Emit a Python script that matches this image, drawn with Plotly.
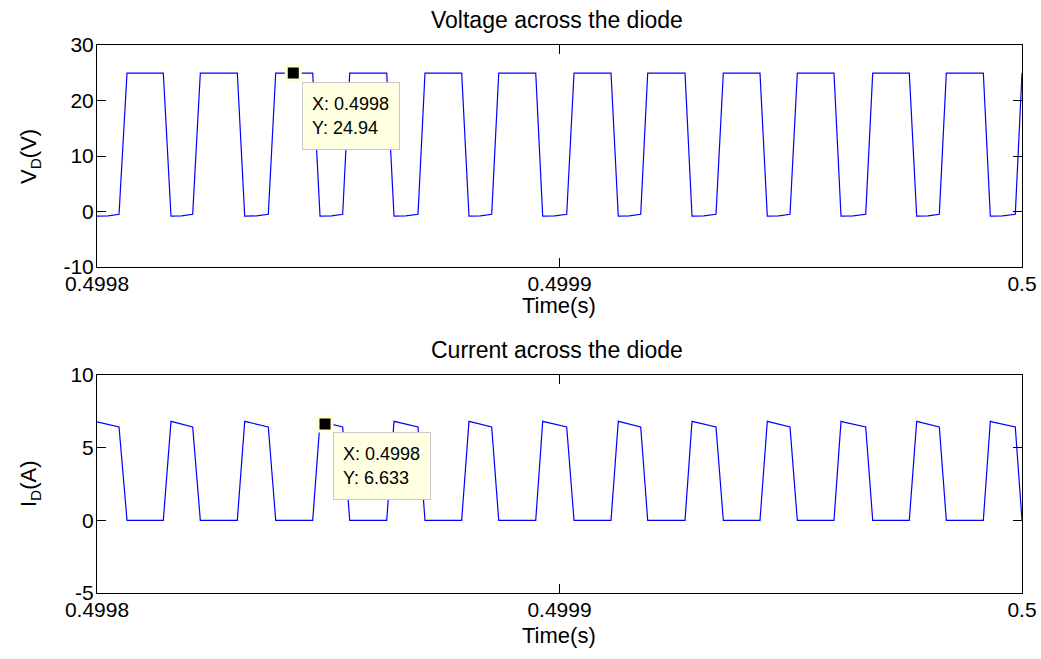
import numpy as np
import plotly.graph_objects as go

# ---- data (time in microseconds after 0.4998 s) ----
v_time_us = [0, 2.4, 4.76, 6.49, 14.34, 16.00, 18.3, 20.69, 22.34, 30.34, 31.94, 34.5, 37.04,
             38.64, 46.64, 48.22, 50.7, 53.12, 54.64, 62.64, 64.22, 66.8, 69.41, 70.92, 78.85,
             80.43, 82.9, 85.34, 86.86, 94.86, 96.37, 99.0, 101.56, 103.14, 111.14, 112.71,
             115.1, 117.56, 119.07, 127.14, 128.65, 131.2, 133.84, 135.42, 143.35, 144.93,
             147.4, 149.84, 151.42, 159.35, 160.87, 163.5, 166.21, 167.72, 175.63, 177.23,
             179.7, 182.12, 183.64, 191.64, 193.15, 195.8, 198.55, 200.0]
v_diode = [-0.85, -0.8, -0.5, 24.94, 24.94, -0.85, -0.8, -0.5, 24.94, 24.94, -0.85, -0.8, -0.5,
           24.94, 24.94, -0.85, -0.8, -0.5, 24.94, 24.94, -0.85, -0.8, -0.5, 24.94, 24.94,
           -0.85, -0.8, -0.5, 24.94, 24.94, -0.85, -0.8, -0.5, 24.94, 24.94, -0.85,
           -0.8, -0.5, 24.94, 24.94, -0.85, -0.8, -0.5, 24.94, 24.94, -0.85,
           -0.8, -0.5, 24.94, 24.94, -0.85, -0.8, -0.5, 24.94, 24.94, -0.85,
           -0.8, -0.5, 24.94, 24.94, -0.85, -0.8, -0.5, 24.94]

i_time_us = [0, 4.76, 6.49, 14.34, 16.00, 16.86, 20.69, 22.34, 30.34, 31.94, 32.8, 37.04, 38.64,
             46.64, 48.22, 49.08, 53.12, 54.64, 62.64, 64.22, 65.08, 69.41, 70.92, 78.85, 80.43,
             81.29, 85.34, 86.86, 94.86, 96.37, 97.23, 101.56, 103.14, 111.14, 112.71, 113.57,
             117.56, 119.07, 127.14, 128.65, 129.51, 133.84, 135.42, 143.35, 144.93, 145.79,
             149.84, 151.42, 159.35, 160.87, 161.73, 166.21, 167.72, 175.63, 177.23, 178.09,
             182.12, 183.64, 191.64, 193.15, 194.01, 198.55, 200.0]
i_diode = [6.78, 6.43, 0, 0, 6.81, 6.74, 6.43, 0, 0, 6.81, 6.74, 6.43, 0,
           0, 6.81, 6.74, 6.43, 0, 0, 6.81, 6.74, 6.43, 0, 0, 6.81,
           6.74, 6.43, 0, 0, 6.81, 6.74, 6.43, 0, 0, 6.81, 6.74,
           6.43, 0, 0, 6.81, 6.74, 6.43, 0, 0, 6.81, 6.74,
           6.43, 0, 0, 6.81, 6.74, 6.43, 0, 0, 6.81, 6.74,
           6.43, 0, 0, 6.81, 6.74, 6.43, 0]

t0 = 0.4998
x_ticks = [0.4998, 0.4999, 0.5]
x_tick_text = ["0.4998", "0.4999", "0.5"]
v_ticks = [-10, 0, 10, 20, 30]
v_tick_text = ["-10", "0", "10", "20", "30"]
i_ticks = [-5, 0, 5, 10]
i_tick_text = ["-5", "0", "5", "10"]

tip_v = (42.44, 24.94)
tip_i = (49.3, 6.633)

W, H = 1041, 659
FONT = "Liberation Sans, Arial, Helvetica, sans-serif"

def px_x(p):
    return p / W

def px_y(p):
    return 1 - p / H

tv = t0 + np.array(v_time_us) * 1e-6
ti = t0 + np.array(i_time_us) * 1e-6

fig = go.Figure()
fig.add_trace(go.Scatter(x=tv, y=v_diode, mode="lines", line=dict(color="#0000FF", width=1.2),
                         xaxis="x", yaxis="y", showlegend=False))
fig.add_trace(go.Scatter(x=ti, y=i_diode, mode="lines", line=dict(color="#0000FF", width=1.2),
                         xaxis="x2", yaxis="y2", showlegend=False))
# datatip markers
fig.add_trace(go.Scatter(x=[t0 + tip_v[0] * 1e-6], y=[tip_v[1]], mode="markers",
                         marker=dict(symbol="square", size=14, color="black",
                                     line=dict(color="#FFFFD0", width=3)),
                         xaxis="x", yaxis="y", showlegend=False))
fig.add_trace(go.Scatter(x=[t0 + tip_i[0] * 1e-6], y=[tip_i[1]], mode="markers",
                         marker=dict(symbol="square", size=14, color="black",
                                     line=dict(color="#FFFFD0", width=3)),
                         xaxis="x2", yaxis="y2", showlegend=False))

xdom = [px_x(97), px_x(1022)]
axis_common = dict(showgrid=False, zeroline=False, showline=True, linecolor="black", linewidth=1,
                   mirror="ticks", ticks="inside", ticklen=9, tickcolor="black", tickwidth=1,
                   automargin=False,
                   tickfont=dict(family=FONT, size=21, color="black"))

fig.update_layout(
    width=W, height=H,
    margin=dict(l=0, r=0, t=0, b=0, pad=0, autoexpand=False),
    paper_bgcolor="white", plot_bgcolor="white",
    xaxis=dict(domain=xdom, range=[0.4998, 0.5], tickvals=x_ticks, ticktext=x_tick_text,
               anchor="y", ticklabelstandoff=-2, **axis_common),
    yaxis=dict(domain=[px_y(267), px_y(45)], range=[-10, 30], tickvals=v_ticks,
               ticktext=v_tick_text, anchor="x", ticklabelstandoff=-2, **axis_common),
    xaxis2=dict(domain=xdom, range=[0.4998, 0.5], tickvals=x_ticks, ticktext=x_tick_text,
                anchor="y2", ticklabelstandoff=-2, **axis_common),
    yaxis2=dict(domain=[px_y(593), px_y(375)], range=[-5, 10], tickvals=i_ticks,
                ticktext=i_tick_text, anchor="x2", ticklabelstandoff=-2, **axis_common),
)

ann_font = dict(family=FONT, size=22, color="black")
annotations = [
    dict(text="Voltage across the diode", x=px_x(557), y=px_y(20), font_size=23),
    dict(text="Current across the diode", x=px_x(557), y=px_y(350), font_size=23),
    dict(text="Time(s)", x=px_x(559), y=px_y(306)),
    dict(text="Time(s)", x=px_x(559), y=px_y(635)),
    dict(text="V<sub>D</sub>(V)", x=px_x(30), y=px_y(157), textangle=-90),
    dict(text="I<sub>D</sub>(A)", x=px_x(30), y=px_y(484), textangle=-90),
]
for a in annotations:
    fs = a.pop("font_size", 22)
    fig.add_annotation(xref="paper", yref="paper", showarrow=False, xanchor="center",
                       yanchor="middle", font=dict(family=FONT, size=fs, color="black"), **a)

tip_font = dict(family=FONT, size=18, color="black")
for txt, left, top in [("X: 0.4998<br>Y: 24.94", 302, 82), ("X: 0.4998<br>Y: 6.633", 333, 432)]:
    fig.add_annotation(xref="paper", yref="paper", showarrow=False, x=px_x(left), y=px_y(top),
                       xanchor="left", yanchor="top", text=txt, align="left", font=tip_font,
                       bgcolor="#FFFFE1", bordercolor="#C8C8C8", borderwidth=1, borderpad=9,
                       width=78, height=48)

fig.write_html("out.html", config={"displayModeBar": False},
               post_script="document.body.style.margin='0';")
